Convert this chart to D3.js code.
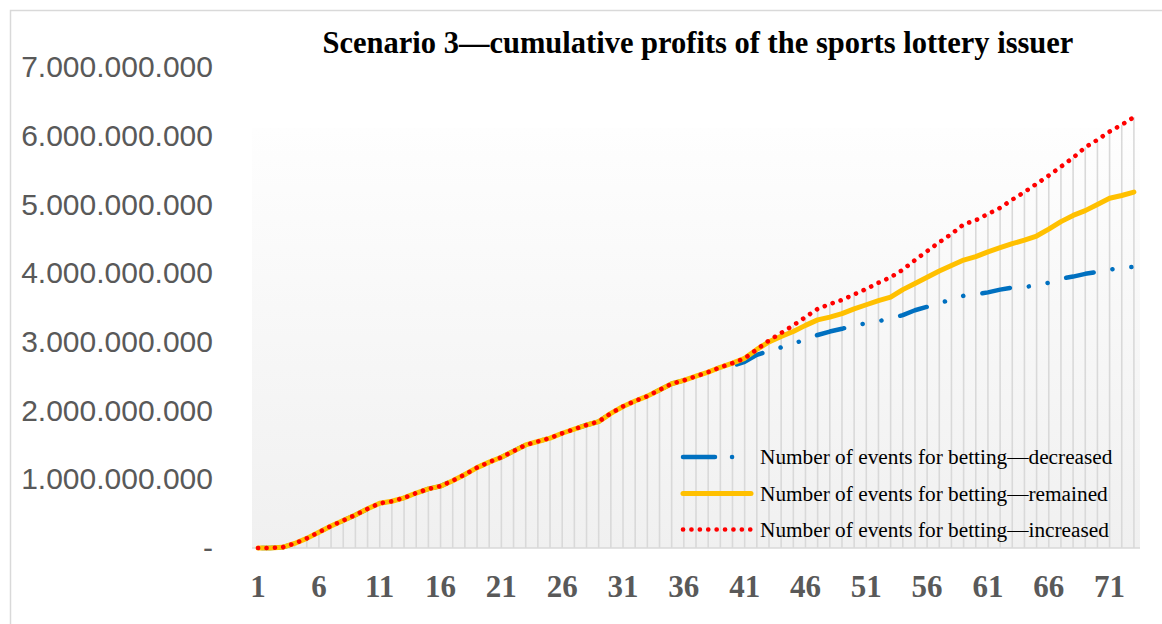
<!DOCTYPE html>
<html>
<head>
<meta charset="utf-8">
<script src="https://cdn.jsdelivr.net/npm/d3@7"></script>
<style>
  html, body { margin: 0; padding: 0; background: #ffffff; }
  svg { display: block; }
</style>
</head>
<body>
<svg id="chart" width="1162" height="624"></svg>
<script>
const categories = d3.range(1, 74);
const xTickLabels = [1, 6, 11, 16, 21, 26, 31, 36, 41, 46, 51, 56, 61, 66, 71];
const yTickValues = [0, 1e9, 2e9, 3e9, 4e9, 5e9, 6e9, 7e9];
const seriesNames = [
  "Number of events for betting\u2014decreased",
  "Number of events for betting\u2014remained",
  "Number of events for betting\u2014increased"
];
const titleText = "Scenario 3\u2014cumulative profits of the sports lottery issuer";

const common = [0, 0, 0.01e9, 0.066e9, 0.14e9, 0.23e9, 0.32e9, 0.40e9, 0.48e9, 0.57e9,
  0.65e9, 0.68e9, 0.73e9, 0.80e9, 0.86e9, 0.90e9, 0.98e9, 1.07e9, 1.17e9, 1.25e9,
  1.32e9, 1.41e9, 1.50e9, 1.55e9, 1.60e9, 1.67e9, 1.73e9, 1.79e9, 1.84e9, 1.96e9,
  2.06e9, 2.14e9, 2.21e9, 2.30e9, 2.39e9, 2.44e9, 2.50e9, 2.56e9, 2.63e9];

const decreased = common.concat([2.65e9, 2.71e9, 2.81e9, 2.87e9, 2.92e9, 2.97e9, 3.04e9,
  3.10e9, 3.15e9, 3.19e9, 3.24e9, 3.27e9, 3.30e9, 3.34e9, 3.39e9, 3.46e9, 3.51e9,
  3.56e9, 3.62e9, 3.67e9, 3.69e9, 3.72e9, 3.76e9, 3.79e9, 3.80e9, 3.82e9, 3.86e9,
  3.92e9, 3.95e9, 3.99e9, 4.02e9, 4.05e9, 4.08e9, 4.09e9]);

const remained = common.concat([2.69e9, 2.76e9, 2.89e9, 3.00e9, 3.08e9, 3.15e9, 3.24e9,
  3.32e9, 3.36e9, 3.41e9, 3.48e9, 3.54e9, 3.60e9, 3.65e9, 3.76e9, 3.85e9, 3.94e9,
  4.03e9, 4.11e9, 4.19e9, 4.24e9, 4.31e9, 4.37e9, 4.43e9, 4.48e9, 4.54e9, 4.64e9,
  4.75e9, 4.84e9, 4.91e9, 5.00e9, 5.09e9, 5.13e9, 5.18e9]);

const increased = common.concat([2.69e9, 2.76e9, 2.89e9, 3.02e9, 3.13e9, 3.24e9, 3.36e9,
  3.48e9, 3.55e9, 3.61e9, 3.69e9, 3.77e9, 3.86e9, 3.94e9, 4.05e9, 4.19e9, 4.32e9,
  4.45e9, 4.57e9, 4.71e9, 4.77e9, 4.86e9, 4.95e9, 5.07e9, 5.18e9, 5.30e9, 5.42e9,
  5.55e9, 5.68e9, 5.83e9, 5.94e9, 6.06e9, 6.16e9, 6.27e9]);

const svg = d3.select("#chart");
const W = 1162, H = 624;
const plot = { left: 252, right: 1140, top: 128, bottom: 548 };

// outer frame (left and top edges visible)
svg.append("path")
  .attr("d", `M10.5,${H} L10.5,10.5 L${W},10.5`)
  .attr("fill", "none").attr("stroke", "#d9d9d9").attr("stroke-width", 1.5);

const x = d3.scaleBand().domain(categories).range([plot.left, plot.right]).padding(0);
const xc = d => x(d) + x.bandwidth() / 2;
const y = d3.scaleLinear().domain([0, 7e9]).range([548, 67]);

// plot background gradient
const defs = svg.append("defs");
const grad = defs.append("linearGradient").attr("id", "bg").attr("x1", 0).attr("y1", 0).attr("x2", 0).attr("y2", 1);
grad.append("stop").attr("offset", "0%").attr("stop-color", "#fefefe");
grad.append("stop").attr("offset", "100%").attr("stop-color", "#f0f0f0");
svg.append("rect")
  .attr("x", plot.left).attr("y", plot.top)
  .attr("width", plot.right - plot.left).attr("height", plot.bottom - plot.top)
  .attr("fill", "url(#bg)");

// drop lines
svg.append("g").selectAll("line").data(categories).join("line")
  .attr("x1", d => xc(d)).attr("x2", d => xc(d))
  .attr("y1", (d, i) => y(Math.max(decreased[i], remained[i], increased[i])))
  .attr("y2", y(0))
  .attr("stroke", "#d9d9d9").attr("stroke-width", 1.6);

// baseline
svg.append("line")
  .attr("x1", plot.left).attr("x2", plot.right)
  .attr("y1", y(0)).attr("y2", y(0))
  .attr("stroke", "#d9d9d9").attr("stroke-width", 1.5);

// y axis
const loc = d3.formatLocale({ decimal: ",", thousands: ".", grouping: [3], currency: ["", ""] });
const fmt = loc.format(",.0f");
const yAxis = d3.axisLeft(y).tickValues(yTickValues).tickSize(0).tickPadding(39)
  .tickFormat(d => d === 0 ? "-" : fmt(d));
const gy = svg.append("g").attr("transform", `translate(${plot.left},0)`).call(yAxis);
gy.select(".domain").remove();
gy.selectAll("text")
  .attr("font-family", "'Liberation Sans', Arial, sans-serif")
  .attr("font-size", 30).attr("fill", "#595959");

// x axis
const xAxis = d3.axisBottom(x).tickValues(xTickLabels).tickSize(0).tickPadding(0);
const gx = svg.append("g").attr("transform", `translate(0,${y(0)})`).call(xAxis);
gx.select(".domain").remove();
gx.selectAll("text")
  .attr("y", 49).attr("dy", 0)
  .attr("font-family", "'Liberation Serif', 'Times New Roman', serif")
  .attr("font-weight", "bold")
  .attr("font-size", 31).attr("fill", "#595959");

// lines
const line = d3.line().x((d, i) => xc(categories[i])).y(d => y(d));
const blueDash = [28, 19, 0.1, 19, 0.1, 19.3];
const styles = [
  { data: decreased, color: "#0070C0", width: 4.5, dash: blueDash.join(",") },
  { data: remained, color: "#FFC000", width: 5, dash: null },
  { data: increased, color: "#FF0000", width: 4.6, dash: "0.1,8.3" }
];
const paths = styles.map(s => svg.append("path").datum(s.data)
    .attr("d", line)
    .attr("fill", "none")
    .attr("stroke", s.color)
    .attr("stroke-width", s.width)
    .attr("stroke-linecap", "round")
    .attr("stroke-linejoin", "round")
    .attr("stroke-dasharray", s.dash));

// align the dash-dot-dot pattern so a long dash begins near x = 817
(function alignDash() {
  const node = paths[0].node();
  const total = node.getTotalLength();
  let lo = 0, hi = total;
  for (let k = 0; k < 40; k++) {
    const mid = (lo + hi) / 2;
    if (node.getPointAtLength(mid).x < 817) lo = mid; else hi = mid;
  }
  const period = d3.sum(blueDash);
  const off = ((-lo % period) + period) % period;
  paths[0].attr("stroke-dashoffset", off);
})();

// legend
const legendY = [457, 493.5, 529.5];
const lg = svg.append("g");
styles.forEach((s, i) => {
  lg.append("line")
    .attr("x1", 683).attr("x2", 751)
    .attr("y1", legendY[i]).attr("y2", legendY[i])
    .attr("stroke", s.color).attr("stroke-width", s.width)
    .attr("stroke-linecap", "round")
    .attr("stroke-dasharray", i === 0 ? "32,17,0.1,40" : s.dash);
  lg.append("text")
    .attr("x", 760).attr("y", legendY[i]).attr("dy", "0.35em")
    .attr("font-family", "'Liberation Serif', 'Times New Roman', serif")
    .attr("font-size", 21.3).attr("fill", "#000")
    .text(seriesNames[i]);
});

// title
svg.append("text")
  .attr("x", 698).attr("y", 53)
  .attr("text-anchor", "middle")
  .attr("font-family", "'Liberation Serif', 'Times New Roman', serif")
  .attr("font-weight", "bold")
  .attr("font-size", 30.5).attr("fill", "#000")
  .text(titleText);
</script>
</body>
</html>
